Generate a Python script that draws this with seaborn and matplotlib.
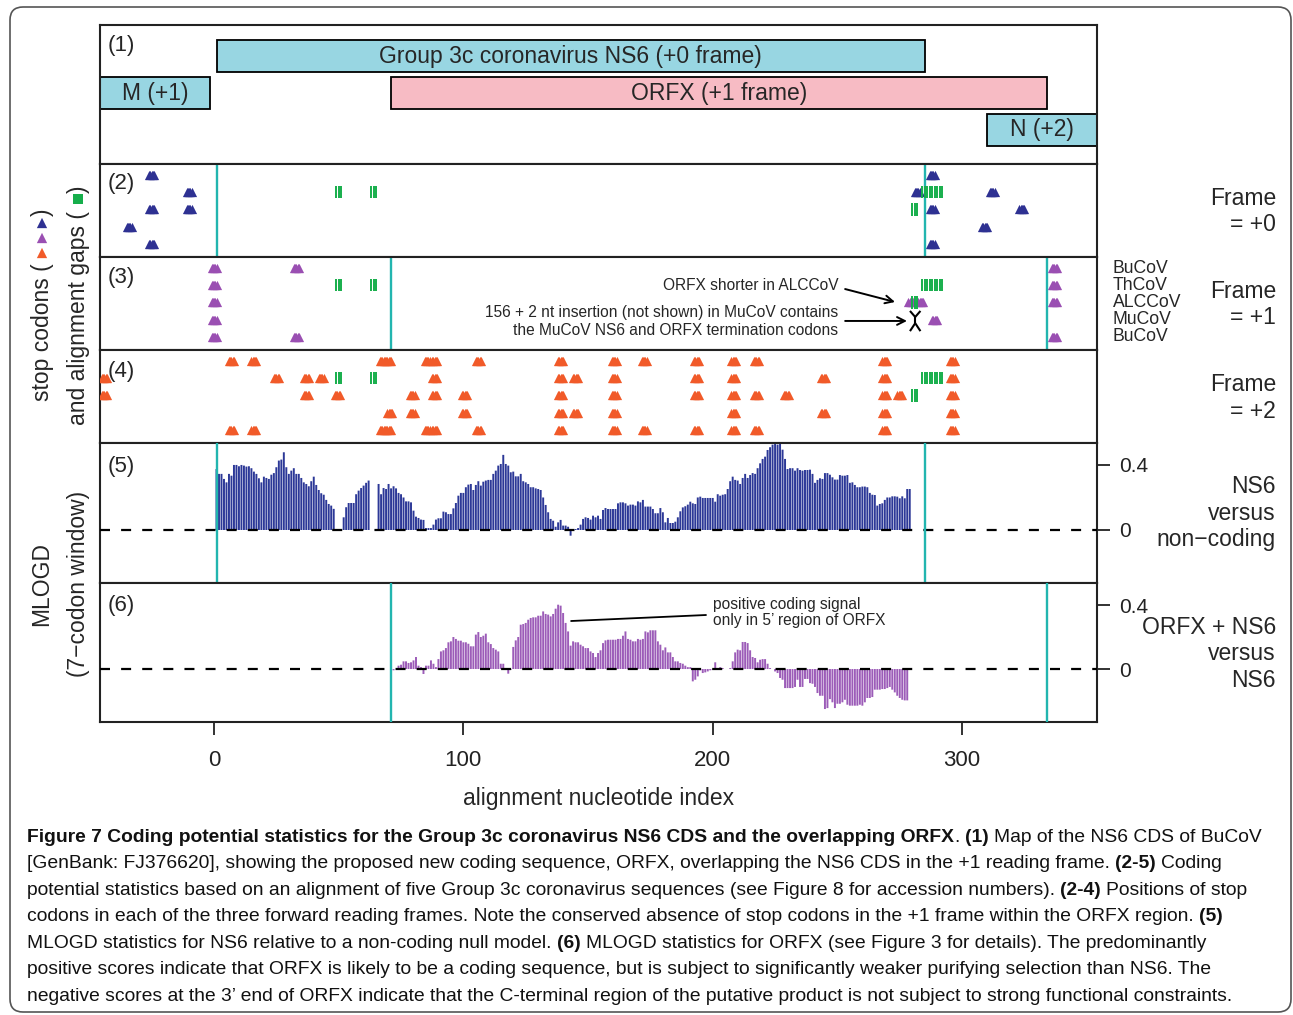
import numpy as np
import pandas as pd
import matplotlib
matplotlib.use("Agg")
import matplotlib.pyplot as plt
import matplotlib.transforms as mtransforms
from matplotlib import font_manager
from matplotlib.patches import FancyBboxPatch
import seaborn as sns

NA = np.nan

# ---------------- data ----------------
gene_names = ["Group 3c coronavirus NS6 (+0 frame)", "M (+1)", "ORFX (+1 frame)", "N (+2)"]
gene_start = [1, -46, 71, 310]
gene_end = [285, -1.5, 334, 356]
gene_track = [0, 1, 1, 2]
gene_kind = ["ns6", "other", "orfx", "other"]

species = ["BuCoV", "ThCoV", "ALCCoV", "MuCoV", "BuCoV"]

# stop codon centres (nt) for each of the five sequences
stops_frame0 = [
    [-25, 288],
    [-10, 282, 312],
    [-25, -10, 288, 324],
    [-34, 309],
    [-25, 288],
]
stops_frame1 = [
    [0, 33, 337],
    [0, 337],
    [0, 279.5, 283.5, 337],
    [0, 289],
    [0, 33, 337],
]
stops_frame2 = [
    [7, 16, 67.5, 70, 85.5, 88.5, 106, 139, 160.5, 172.5, 193.5, 208.5, 217.5, 269, 296],
    [-44, 25, 37, 43, 88.5, 139, 145, 160.5, 193.5, 208.5, 244.5, 269, 296],
    [-44, 37, 49.5, 79.5, 88.5, 100.5, 139, 160.5, 193.5, 208.5, 217.5, 229.5, 269, 275, 296],
    [70.5, 79.5, 100.5, 139, 145, 160.5, 208.5, 244.5, 269, 296],
    [7, 16, 67.5, 70, 85.5, 88.5, 106, 139, 160.5, 172.5, 193.5, 208.5, 217.5, 269, 296],
]
# alignment gap positions (nt) for each sequence
gaps = [
    [],
    [49, 50, 51, 63, 64, 65, 284, 285, 286, 287, 288, 289, 290, 291, 292],
    [280, 281, 282],
    [],
    [],
]

ns6_mlogd_start = 1
ns6_mlogd = [
    0.375, 0.345, 0.345, 0.314, 0.293, 0.345, 0.334, 0.400, 0.400, 0.392,
    0.400, 0.396, 0.390, 0.392, 0.380, 0.359, 0.345, 0.318, 0.293, 0.328,
    0.320, 0.314, 0.340, 0.350, 0.386, 0.427, 0.433, 0.478, 0.386, 0.345,
    0.365, 0.380, 0.345, 0.345, 0.320, 0.293, 0.283, 0.269, 0.300, 0.328,
    0.277, 0.246, 0.226, 0.217, 0.185, 0.160, 0.150, 0.130,
    NA, NA, NA,
    0.078, 0.140, 0.166, 0.166, 0.166, 0.220, 0.242, 0.258, 0.273, 0.290, 0.304,
    NA, NA, NA,
    0.283, 0.220, 0.258, 0.252, 0.283, 0.256, 0.269, 0.256, 0.228, 0.220,
    0.200, 0.176, 0.176, 0.170, 0.119, 0.082, 0.074, 0.064, 0.062, 0.012,
    0.012, 0.012, 0.033, 0.064, 0.072, 0.072, 0.113, 0.109, 0.098, 0.098,
    0.133, 0.166, 0.211, 0.228, 0.228, 0.263, 0.279, 0.283, 0.246, 0.277,
    0.300, 0.273, 0.297, 0.304, 0.308, 0.308, 0.345, 0.365, 0.396, 0.406,
    0.462, 0.406, 0.396, 0.355, 0.359, 0.330, 0.330, 0.345, 0.300, 0.293,
    0.283, 0.263, 0.263, 0.256, 0.252, 0.246, 0.200, 0.154, 0.109, 0.068,
    0.057, 0.020, 0.047, 0.062, 0.027, 0.027, 0.020, -0.035, -0.004, 0.006,
    0.012, 0.033, 0.068, 0.078, 0.074,
    0.064, 0.088, 0.078, 0.088, 0.068, 0.123, 0.135, 0.129, 0.129, 0.129,
    0.129, 0.164, 0.170, 0.170, 0.164, 0.150, 0.156, 0.156, 0.150, 0.176,
    0.170, 0.185, 0.144, 0.144, 0.144, 0.129, 0.103, 0.103, 0.135, 0.109,
    0.047, 0.074, 0.043, 0.043, 0.051, 0.078, 0.115, 0.139, 0.146, 0.156,
    0.174, 0.164, 0.160, 0.200, 0.205, 0.197, 0.197, 0.197, 0.197, 0.197,
    0.174, 0.220, 0.211, 0.217, 0.220, 0.252, 0.300, 0.328, 0.308, 0.304,
    0.283, 0.320, 0.345, 0.320, 0.338, 0.350, 0.345, 0.380, 0.410, 0.437,
    0.451, 0.492, 0.509, 0.525, 0.529, 0.525, 0.529, 0.494, 0.437, 0.375,
    0.380, 0.380, 0.365, 0.380, 0.369, 0.365, 0.369, 0.369, 0.371, 0.345,
    0.290, 0.308, 0.318, 0.314, 0.350, 0.350, 0.340, 0.324, 0.310, 0.310,
    0.338, 0.334, 0.334, 0.338, 0.290, 0.293, 0.277, 0.263, 0.263, 0.267,
    0.267, 0.263, 0.228, 0.217, 0.215, 0.150, 0.160, 0.164, 0.185, 0.200,
    0.200, 0.207, 0.207, 0.205, 0.195, 0.207, 0.195, 0.252, 0.252,
]

orfx_mlogd_start = 72
orfx_mlogd = [
    -0.008, 0.000, 0.021, 0.027, 0.048, 0.048, 0.038, 0.042, 0.054, 0.075, 0.021, 0.012, -0.031, 0.021, 0.021,
    0.054, 0.033, 0.012, 0.062, 0.110, 0.117, 0.131, 0.167, 0.173, 0.200, 0.188, 0.177, 0.177, 0.167, 0.167,
    0.158, 0.142, 0.142, 0.215, 0.231, 0.200, 0.208, 0.221, 0.167, 0.156, 0.131, 0.121, 0.110, 0.033, 0.033,
    0.000, -0.029, -0.004, 0.138, 0.179, 0.200, 0.277, 0.281, 0.288, 0.308, 0.319, 0.323, 0.323, 0.333, 0.333,
    0.360, 0.344, 0.340, 0.329, 0.344, 0.377, 0.402, 0.396, 0.350, 0.288, 0.235, 0.146, 0.173, 0.167, 0.167,
    0.152, 0.142, 0.131, 0.131, 0.110, 0.100, 0.075, 0.100, 0.117, 0.162, 0.179, 0.183, 0.183, 0.183, 0.183,
    0.188, 0.188, 0.208, 0.235, 0.188, 0.183, 0.173, 0.173, 0.188, 0.183, 0.188, 0.235, 0.229, 0.242, 0.242,
    0.242, 0.173, 0.152, 0.117, 0.135, 0.104, 0.104, 0.075, 0.048, 0.048, 0.038, 0.033, 0.021, 0.012, 0.012,
    -0.077, -0.067, -0.046, -0.008, -0.025, -0.021, -0.015, -0.008, -0.004, 0.042, 0.000, 0.012, 0.006, 0.000, 0.000,
    0.006, 0.048, 0.104, 0.121, 0.117, 0.169, 0.169, 0.162, 0.117, 0.075, 0.069, 0.042, 0.058, 0.062, 0.062,
    0.033, 0.006, 0.000, -0.015, -0.025, -0.056, -0.067, -0.119, -0.119, -0.119, -0.119, -0.112, -0.067, -0.112, -0.112,
    -0.062, -0.062, -0.088, -0.092, -0.112, -0.150, -0.167, -0.167, -0.250, -0.244, -0.188, -0.208, -0.244, -0.217, -0.217,
    -0.208, -0.192, -0.223, -0.229, -0.229, -0.229, -0.229, -0.223, -0.229, -0.208, -0.181, -0.181, -0.175, -0.129, -0.129,
    -0.129, -0.125, -0.125, -0.119, -0.112, -0.129, -0.146, -0.167, -0.181, -0.192, -0.196, -0.196,
]

x_ticks = [0, 100, 200, 300]
mlogd_ticks = [0, 0.4]
mlogd_ticklabels = ["0", "0.4"]

frame_labels = ["Frame\n= +0", "Frame\n= +1", "Frame\n= +2"]
mlogd_labels = ["NS6\nversus\nnon\u2212coding", "ORFX + NS6\nversus\nNS6"]
panel_tags = ["(1)", "(2)", "(3)", "(4)", "(5)", "(6)"]

caption_lines = [
    [("Figure 7 Coding potential statistics for the Group 3c coronavirus NS6 CDS and the overlapping ORFX", True, False),
     (".", False, False), ("(1)", True, True), ("Map of the NS6 CDS of BuCoV", False, True)],
    [("[GenBank: FJ376620], showing the proposed new coding sequence, ORFX, overlapping the NS6 CDS in the +1 reading frame.", False, False),
     ("(2-5)", True, True), ("Coding", False, True)],
    [("potential statistics based on an alignment of five Group 3c coronavirus sequences (see Figure 8 for accession numbers).", False, False),
     ("(2-4)", True, True), ("Positions of stop", False, True)],
    [("codons in each of the three forward reading frames. Note the conserved absence of stop codons in the +1 frame within the ORFX region.", False, False),
     ("(5)", True, True)],
    [("MLOGD statistics for NS6 relative to a non-coding null model.", False, False), ("(6)", True, True),
     ("MLOGD statistics for ORFX (see Figure 3 for details). The predominantly", False, True)],
    [("positive scores indicate that ORFX is likely to be a coding sequence, but is subject to significantly weaker purifying selection than NS6. The", False, False)],
    [("negative scores at the 3\u2019 end of ORFX indicate that the C-terminal region of the putative product is not subject to strong functional constraints.", False, False)],
]

# ---------------- style ----------------
sns.set_theme(style="white")
plt.rcParams["font.family"] = ["Liberation Sans", "DejaVu Sans"]

BLUE = "#2E3192"
PURPLE = "#9A4FB2"
ORANGE = "#F15A29"
GREEN = "#16AE4B"
CYAN = "#22B5AF"
NAVY = "#2C3897"
LILAC = "#9C5CB8"
BOX_BLUE = "#98D6E2"
BOX_PINK = "#F7BBC4"
FS = 16.5

W, H = 1293, 1015
fig = plt.figure(figsize=(W / 100, H / 100), dpi=100)
fig.patch.set_facecolor("white")

L, R = 100, 1097
panel_px = [(25, 164), (164, 257), (257, 350), (350, 443), (443, 583), (583, 722)]
XMIN, XMAX = -45.72, 354.1

axes = []
for top, bot in panel_px:
    ax = fig.add_axes([L / W, 1 - bot / H, (R - L) / W, (bot - top) / H])
    ax.set_xlim(XMIN, XMAX)
    ax.set_xticks([])
    ax.set_yticks([])
    for sp in ax.spines.values():
        sp.set_linewidth(1.5)
        sp.set_color("#222222")
    axes.append(ax)

# ---- panel 1: gene map
ax = axes[0]
for name, s, e, t, k in zip(gene_names, gene_start, gene_end, gene_track, gene_kind):
    col = BOX_PINK if k == "orfx" else BOX_BLUE
    ax.barh(t, e - s, left=s, height=0.88, color=col, edgecolor="black", linewidth=1.3, zorder=2)
    cs, ce = max(s, XMIN), min(e, XMAX)
    ax.text((cs + ce) / 2, t, name, ha="center", va="center", fontsize=FS, zorder=3)
ax.set_ylim(2.919, -0.838)

ns6_idx = gene_kind.index("ns6")
orfx_idx = gene_kind.index("orfx")
ns6_bounds = [gene_start[ns6_idx], gene_end[ns6_idx]]
orfx_bounds = [gene_start[orfx_idx], gene_end[orfx_idx]]

# ---- panels 2-4: stop codons and gaps
for ax, stops, col, vl in zip(axes[1:4], [stops_frame0, stops_frame1, stops_frame2],
                              [BLUE, PURPLE, ORANGE], [ns6_bounds, orfx_bounds, []]):
    xs, ys = [], []
    for r, row in enumerate(stops):
        for c in row:
            for d in (-1, -0.5, 0, 0.5, 1):
                xs.append(c + d)
                ys.append(r)
    for v in vl:
        ax.axvline(v, color=CYAN, lw=1.7, zorder=1)
    sns.scatterplot(x=xs, y=ys, marker="^", s=44, color=col, linewidth=0, ax=ax,
                    legend=False, zorder=3)
    gx, gy = [], []
    for r, row in enumerate(gaps):
        for g in row:
            gx.append(g)
            gy.append(r)
    gx = np.array(gx, float)
    gy = np.array(gy, float)
    ax.vlines(gx, gy - 0.36, gy + 0.36, color=GREEN, lw=1.4, zorder=4)
    ax.set_ylim(4.754, -0.638)
    ax.set_xlim(XMIN, XMAX)
    ax.set_xlabel("")
    ax.set_ylabel("")
    ax.set_xticks([])
    ax.set_yticks([])

# annotations in panel 3
ax3 = axes[2]
ax3.text(250.3, 1.04, "ORFX shorter in ALCCoV", ha="right", va="center", fontsize=11.2)
ax3.text(250.3, 3.1, "156 + 2 nt insertion (not shown) in MuCoV contains\nthe MuCoV NS6 and ORFX termination codons",
         ha="right", va="center", fontsize=11.2, linespacing=1.2, multialignment="right")
arr = dict(arrowstyle="->", color="black", lw=1.4, shrinkA=0, shrinkB=0, mutation_scale=14)
ax3.annotate("", xy=(273.1, 1.97), xytext=(253.1, 1.22), arrowprops=arr)
ax3.annotate("", xy=(277.9, 3.07), xytext=(253.1, 3.07), arrowprops=arr)
ins = 281.2
for (x0, y0, x1, y1) in [(ins - 2.1, 2.49, ins, 2.84), (ins + 2.1, 2.49, ins, 2.84),
                         (ins, 2.84, ins, 3.2), (ins, 3.2, ins - 2.1, 3.66), (ins, 3.2, ins + 2.1, 3.66)]:
    ax3.plot([x0, x1], [y0, y1], color="black", lw=1.5, zorder=5, solid_capstyle="butt")
btrans = mtransforms.blended_transform_factory(ax3.transAxes, ax3.transData)
for r, sp_name in enumerate(species):
    ax3.text((1113 - L) / (R - L), r, sp_name, transform=btrans, ha="left", va="center", fontsize=12.7)

# ---- panels 5-6: MLOGD bars
for ax, vals, start, col, vl, ylim in [
        (axes[4], ns6_mlogd, ns6_mlogd_start, NAVY, ns6_bounds, (-0.326, 0.535)),
        (axes[5], orfx_mlogd, orfx_mlogd_start, LILAC, orfx_bounds, (-0.331, 0.5375))]:
    df = pd.DataFrame({"nt": np.arange(start, start + len(vals)), "mlogd": vals}).dropna()
    sns.barplot(data=df, x="nt", y="mlogd", native_scale=True, width=0.78, color=col,
                saturation=1, errorbar=None, linewidth=0, snap=False, ax=ax, zorder=2)
    ax.axhline(0, color="black", lw=1.6, ls=(0, (4.5, 5)), zorder=3)
    for v in vl:
        ax.axvline(v, color=CYAN, lw=1.7, zorder=4)
    ax.set_xlim(XMIN, XMAX)
    ax.set_ylim(*ylim)
    ax.set_xlabel("")
    ax.set_ylabel("")
    ax.set_yticks(mlogd_ticks)
    ax.set_yticklabels(mlogd_ticklabels)
    ax.tick_params(axis="y", left=False, labelleft=False, right=True, labelright=True,
                   direction="out", length=9, width=1.3, pad=7, labelsize=15, colors="#222222")
    ax.set_xticks([])

ax6 = axes[5]
ax6.set_xticks(x_ticks)
ax6.set_xticklabels([str(t) for t in x_ticks])
ax6.tick_params(axis="x", bottom=True, labelbottom=True, direction="out", length=9,
                width=1.3, pad=11, labelsize=16, colors="#222222")
ax6.text(200.1, 0.353, "positive coding signal\nonly in 5\u2019 region of ORFX", ha="left", va="center",
         fontsize=11.2, linespacing=1.15)
ax6.plot([143.2, 197.3], [0.30, 0.3375], color="black", lw=1.3, zorder=5)

# panel tags
for ax, tag, (top, bot), off in zip(axes, panel_tags, panel_px, [20, 20, 20, 21, 23, 23]):
    ax.text(0.008, 1 - off / (bot - top), tag, transform=ax.transAxes, ha="left", va="center",
            fontsize=16, zorder=10)

# ---------------- overlay (figure pixel coordinates) ----------------
ov = fig.add_axes([0, 0, 1, 1], zorder=20)
ov.set_xlim(0, W)
ov.set_ylim(H, 0)
ov.axis("off")
ov.patch.set_visible(False)

ov.add_patch(FancyBboxPatch((10, 7), 1281, 1005, boxstyle="round,pad=0,rounding_size=13",
                            fill=False, edgecolor="#555555", lw=1.2))

ov.text(598.5, 798, "alignment nucleotide index", ha="center", va="center", fontsize=FS)

for lab, yc in zip(frame_labels, [211.5, 304.5, 398]):
    ov.text(1276, yc, lab, ha="right", va="center", fontsize=FS, multialignment="right")
for lab, yc in zip(mlogd_labels, [513, 654]):
    ov.text(1276, yc, lab, ha="right", va="center", fontsize=FS, multialignment="right")

# left axis titles
ov.text(42, 263, "stop codons (", rotation=90, ha="center", va="top", fontsize=FS)
ov.scatter([42, 42, 42], [253, 238, 223], marker="^", s=55, c=[ORANGE, PURPLE, BLUE], linewidths=0)
ov.text(42, 216, ")", rotation=90, ha="center", va="bottom", fontsize=FS)
ov.text(78, 211, "and alignment gaps (", rotation=90, ha="center", va="top", fontsize=FS)
ov.scatter([78], [199], marker="s", s=45, c=[GREEN], linewidths=0)
ov.text(78, 193, ")", rotation=90, ha="center", va="bottom", fontsize=FS)
ov.text(42, 584, "MLOGD", rotation=90, ha="center", va="center", fontsize=FS)
ov.text(78, 583.5, "(7\u2212codon window)", rotation=90, ha="center", va="center", fontsize=FS)

# ---------------- caption ----------------
names = {f.name for f in font_manager.fontManager.ttflist}
cap_family = "Liberation Sans Narrow" if "Liberation Sans Narrow" in names else "Liberation Sans"
renderer = fig.canvas.get_renderer()


def text_w(s, bold, fs):
    t = ov.text(0, 0, s, fontsize=fs, fontweight="bold" if bold else "normal", family=cap_family)
    w = t.get_window_extent(renderer).width
    t.remove()
    return w


def line_w(line, fs):
    sp = text_w("a a", False, fs) - text_w("aa", False, fs)
    tot = 0
    for s, b, spb in line:
        tot += (sp if spb else 0) + text_w(s, b, fs)
    return tot


x0 = 27
line_ends = [1278, 1260, 1262, 1268, 1212, 1228, 1272]
ratios = [(e - x0) / line_w(ln, 10.0) for ln, e in zip(caption_lines, line_ends)]
cap_fs = min(10.0 * min(ratios), 16.0)
space_w = text_w("a a", False, cap_fs) - text_w("aa", False, cap_fs)
baselines = [842, 868, 895, 921, 948, 974, 1001]
for ln, yb in zip(caption_lines, baselines):
    x = x0
    for s, b, spb in ln:
        if spb:
            x += space_w
        ov.text(x, yb, s, fontsize=cap_fs, fontweight="bold" if b else "normal", family=cap_family,
                ha="left", va="baseline", color="#111111")
        x += text_w(s, b, cap_fs)

fig.savefig("out.png", dpi=100, facecolor="white")
